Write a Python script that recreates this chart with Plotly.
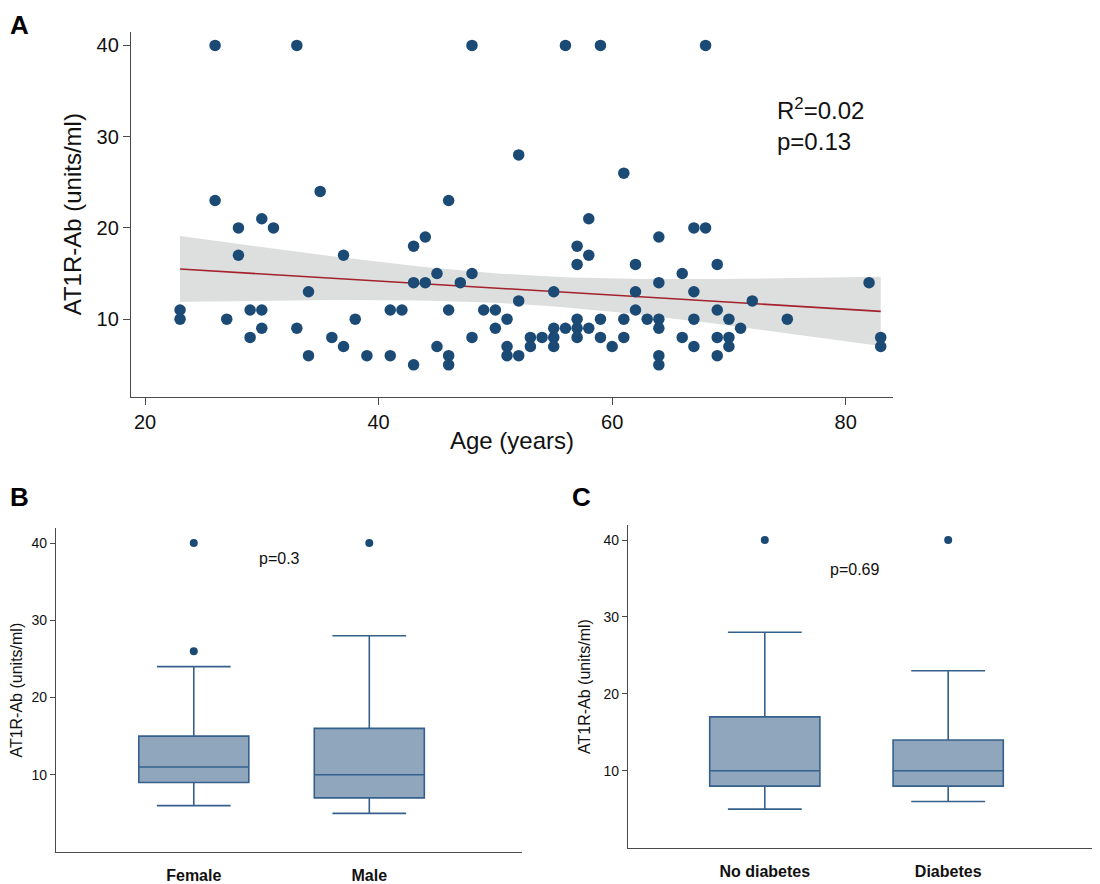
import numpy as np
import plotly.graph_objects as go

# Panel A: age vs AT1R-Ab
age = [23, 23, 26, 26, 27, 28, 28, 29, 29, 30, 30, 30, 31, 33, 33, 34, 34, 35, 36,
       37, 37, 38, 39, 41, 41, 42, 43, 43, 43, 44, 44, 45, 45, 46, 46, 46, 46, 47,
       48, 48, 48, 49, 50, 50, 51, 51, 51, 52, 52, 52, 53, 53, 54, 55, 55, 55, 55,
       56, 56, 57, 57, 57, 57, 57, 58, 58, 58, 59, 59, 59, 60, 61, 61, 61, 62, 62,
       62, 63, 64, 64, 64, 64, 64, 64, 66, 66, 67, 67, 67, 67, 68, 68, 69, 69, 69,
       69, 70, 70, 70, 71, 72, 75, 82, 83, 83]
ab = [11, 10, 40, 23, 10, 20, 17, 11, 8, 21, 11, 9, 20, 40, 9, 13, 6, 24, 8,
      17, 7, 10, 6, 11, 6, 11, 18, 14, 5, 19, 14, 15, 7, 23, 11, 6, 5, 14,
      40, 15, 8, 11, 11, 9, 10, 7, 6, 28, 12, 6, 8, 7, 8, 13, 9, 8, 7,
      40, 9, 18, 16, 10, 9, 8, 21, 17, 9, 40, 10, 8, 7, 26, 10, 8, 16, 13,
      11, 10, 19, 14, 10, 9, 6, 5, 15, 8, 20, 13, 10, 7, 40, 20, 16, 11, 8,
      6, 10, 8, 7, 9, 12, 10, 14, 8, 7]

# Panels B and C: box summaries
sex_groups = ["Female", "Male"]
sex_q1 = [9, 7]
sex_median = [11, 10]
sex_q3 = [15, 16]
sex_low = [6, 5]
sex_high = [24, 28]
sex_out_x = [0, 0, 1]
sex_out_y = [26, 40, 40]

dm_groups = ["No diabetes", "Diabetes"]
dm_q1 = [8, 8]
dm_median = [10, 10]
dm_q3 = [17, 14]
dm_low = [5, 6]
dm_high = [28, 23]
dm_out_x = [0, 1]
dm_out_y = [40, 40]

DOT = "#1b4a75"
BOX_FILL = "#8fa6bd"
BOX_LINE = "#35608c"
AXIS = "#4a4a4a"
FONT = "Liberation Sans"

# the page body has an 8px margin, so the figure is 8px smaller each way
W, H, OFF = 1092, 876, 8

def fx(p):
    return (p - OFF) / W

def fy(p):
    return 1 - (p - OFF) / H

# linear fit with 95% CI of the mean
x = np.array(age, dtype=float)
y = np.array(ab, dtype=float)
n = len(x)
slope, intercept = np.polyfit(x, y, 1)
resid = y - (slope * x + intercept)
s = np.sqrt((resid ** 2).sum() / (n - 2))
sxx = ((x - x.mean()) ** 2).sum()
t_crit = 1.983
xs = np.linspace(x.min(), x.max(), 60)
ys = slope * xs + intercept
half = t_crit * s * np.sqrt(1 / n + (xs - x.mean()) ** 2 / sxx)

fig = go.Figure()

fig.add_trace(go.Scatter(
    x=np.concatenate([xs, xs[::-1]]), y=np.concatenate([ys + half, (ys - half)[::-1]]),
    fill="toself", fillcolor="#dddfdf", line=dict(width=0), mode="lines",
    xaxis="x", yaxis="y", hoverinfo="skip"))
fig.add_trace(go.Scatter(x=xs, y=ys, mode="lines", line=dict(color="#a3222b", width=1.6),
                         xaxis="x", yaxis="y"))
fig.add_trace(go.Scatter(x=age, y=ab, mode="markers",
                         marker=dict(color=DOT, size=11.5, line=dict(width=0)),
                         xaxis="x", yaxis="y"))

def add_boxes(q1, med, q3, lo, hi, ox, oy, xa, ya, width):
    fig.add_trace(go.Box(
        x=[0, 1], q1=q1, median=med, q3=q3, lowerfence=lo, upperfence=hi,
        width=width, whiskerwidth=0.67, fillcolor=BOX_FILL,
        line=dict(color=BOX_LINE, width=1.6), boxpoints=False,
        xaxis=xa, yaxis=ya))
    fig.add_trace(go.Scatter(x=ox, y=oy, mode="markers",
                             marker=dict(color=DOT, size=8),
                             xaxis=xa, yaxis=ya))

add_boxes(sex_q1, sex_median, sex_q3, sex_low, sex_high, sex_out_x, sex_out_y, "x2", "y2", 0.627)
add_boxes(dm_q1, dm_median, dm_q3, dm_low, dm_high, dm_out_x, dm_out_y, "x3", "y3", 0.601)

axis_common = dict(showline=True, linecolor=AXIS, linewidth=1.3, showgrid=False,
                   zeroline=False, ticks="outside", tickcolor=AXIS,
                   tickfont=dict(family=FONT, color="#111"))
cat_ticks = dict(ticks="outside", ticklen=9, tickcolor="rgba(0,0,0,0)",
                 tickfont=dict(family=FONT, size=16, color="#111"))

fig.update_layout(
    width=W, height=H, showlegend=False,
    plot_bgcolor="white", paper_bgcolor="white",
    margin=dict(l=0, r=0, t=0, b=0),
    font=dict(family=FONT, color="#111"),
    xaxis=dict(axis_common, domain=[fx(131), fx(893)], anchor="y", range=[18.8, 84.05],
               tickvals=[20, 40, 60, 80], ticklen=7, tickfont=dict(family=FONT, size=20),
               title=dict(text="Age (years)", font=dict(size=24), standoff=0)),
    yaxis=dict(axis_common, domain=[fy(401.7), fy(32)], anchor="x", range=[1.5, 41.5],
               tickvals=[10, 20, 30, 40], ticklen=7, tickfont=dict(family=FONT, size=20),
               title=dict(text="AT1R-Ab (units/ml)", font=dict(size=24), standoff=8)),
    xaxis2=dict(axis_common, domain=[fx(56), fx(522)], anchor="y2", range=[-0.785, 1.87],
                tickvals=[0, 1], ticktext=["<b>" + g + "</b>" for g in sex_groups],
                **cat_ticks),
    yaxis2=dict(axis_common, domain=[fy(862.7), fy(535)], anchor="x2", range=[0, 41.9],
                tickvals=[10, 20, 30, 40], ticklen=5, tickfont=dict(family=FONT, size=14),
                title=dict(text="AT1R-Ab (units/ml)", font=dict(size=16), standoff=8)),
    xaxis3=dict(axis_common, domain=[fx(628), min(fx(1098), 1)], anchor="y3",
                range=[-0.746, 1.817],
                tickvals=[0, 1], ticktext=["<b>" + g + "</b>" for g in dm_groups],
                **cat_ticks),
    yaxis3=dict(axis_common, domain=[fy(858.3), fy(532)], anchor="x3", range=[0, 41.9],
                tickvals=[10, 20, 30, 40], ticklen=5, tickfont=dict(family=FONT, size=14),
                title=dict(text="AT1R-Ab (units/ml)", font=dict(size=16), standoff=8)),
)

fig.add_annotation(x=73.96, y=31.3, xref="x", yref="y", xanchor="left", align="left",
                   text="R<sup>2</sup>=0.02<br>p=0.13", showarrow=False,
                   font=dict(size=24))
fig.add_annotation(x=0.49, y=38.0, xref="x2", yref="y2", text="p=0.3",
                   showarrow=False, font=dict(size=16))
fig.add_annotation(x=0.49, y=36.2, xref="x3", yref="y3", text="p=0.69",
                   showarrow=False, font=dict(size=16))

# panel letters; A and B sit against the page edge
panel_font = dict(size=26, color="black")
fig.add_annotation(x=0, y=1, xref="paper", yref="paper", xanchor="left", yanchor="top",
                   text="<b>A</b>", showarrow=False, font=panel_font)
fig.add_annotation(x=0, y=fy(503), xref="paper", yref="paper", xanchor="left",
                   yanchor="middle", text="<b>B</b>", showarrow=False, font=panel_font)
fig.add_annotation(x=fx(581), y=fy(503), xref="paper", yref="paper", xanchor="center",
                   yanchor="middle", text="<b>C</b>", showarrow=False, font=panel_font)

fig.write_html("out.html")
